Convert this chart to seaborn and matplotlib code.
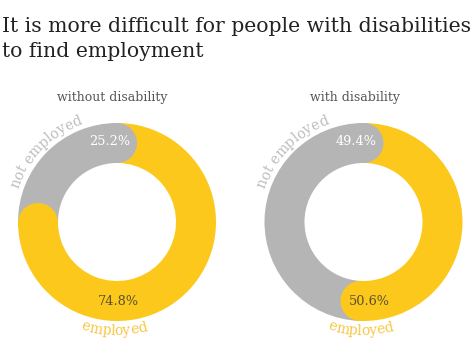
import numpy as np
import matplotlib
matplotlib.use("Agg")
import matplotlib.pyplot as plt
from matplotlib.patches import Circle
from matplotlib.ft2font import FT2Font
from matplotlib.font_manager import findfont, FontProperties
import seaborn as sns

# data
groups = ["without disability", "with disability"]
not_employed = [25.2, 49.4]
employed = [74.8, 50.6]
labels = ["not employed", "employed"]
title = ["It is more difficult for people with disabilities", "to find employment"]

W, H = 473, 364
SERIF = "DejaVu Serif"
gray = "#b5b5b5"
yellow = "#fdc81c"

sns.set_theme(style="white")
plt.rcParams["font.family"] = [SERIF, "DejaVu Sans"]

fig = plt.figure(figsize=(W / 100, H / 100), dpi=100)
ax = fig.add_axes([0, 0, 1, 1])


def advances(text, size):
    f = FT2Font(findfont(FontProperties(family=SERIF)))
    f.set_size(size, 100)
    return [f.load_char(ord(c)).linearHoriAdvance / 65536 for c in text]


def curved_text(text, cx, cy, r, mid, size, color, top=True):
    adv = advances(text, size)
    total = sum(adv)
    s = 0
    for c, a in zip(text, adv):
        d = s + a / 2 - total / 2
        s += a
        if top:
            th = mid - np.degrees(d / r)
            rot = th - 90
        else:
            th = mid + np.degrees(d / r)
            rot = th + 90
        x = cx + r * np.cos(np.radians(th))
        y = cy + r * np.sin(np.radians(th))
        ax.text(x, y, c, fontsize=size, color=color, rotation=rot,
                rotation_mode="anchor", ha="center", va="baseline")


centers = [(117, H - 222), (363.5, H - 222)]
R, ring = 99, 40
rm = R - ring / 2
gray_lbl_ang = [95, 95]
yel_lbl_ang = [270.7, 274]
sub_x = [112.5, 354.5]

for i, (cx, cy) in enumerate(centers):
    ax.pie([not_employed[i], employed[i]], colors=[gray, yellow], startangle=90,
           counterclock=True, radius=R, center=(cx, cy),
           wedgeprops=dict(width=ring, linewidth=0))
    # rounded end of each segment
    end_gray = 90
    end_yel = 90 + 360 * not_employed[i] / 100
    for ang, col in [(end_gray, gray), (end_yel, yellow)]:
        ax.add_patch(Circle((cx + rm * np.cos(np.radians(ang)), cy + rm * np.sin(np.radians(ang))),
                            ring / 2, color=col, lw=0, zorder=3))
    a = np.radians(gray_lbl_ang[i])
    ax.text(cx + 81 * np.cos(a), cy + 81 * np.sin(a), f"{not_employed[i]}%", color="white",
            fontsize=9.3, ha="center", va="center", zorder=5)
    a = np.radians(yel_lbl_ang[i])
    ax.text(cx + 80 * np.cos(a), cy + 80 * np.sin(a), f"{employed[i]}%", color="#5a5030",
            fontsize=9.3, ha="center", va="center", zorder=5)
    curved_text(labels[0], cx, cy, 104, 135.5, 10, "#bdbdbd", top=True)
    curved_text(labels[1], cx, cy, 113, 268.5, 10, "#f7c643", top=False)
    ax.text(sub_x[i], H - 101, groups[i], fontsize=9, color="#555555",
            ha="center", va="baseline")

# fit the first title line to the figure width
tsize = 15.5 * 467 / sum(advances(title[0], 15.5))
ax.text(2, H - 32, title[0], fontsize=tsize, color="#222222", ha="left", va="baseline")
ax.text(2, H - 57, title[1], fontsize=tsize, color="#222222", ha="left", va="baseline")

ax.set_xlim(0, W)
ax.set_ylim(0, H)
ax.set_aspect("equal")
ax.axis("off")
fig.savefig("out.png", dpi=100)
